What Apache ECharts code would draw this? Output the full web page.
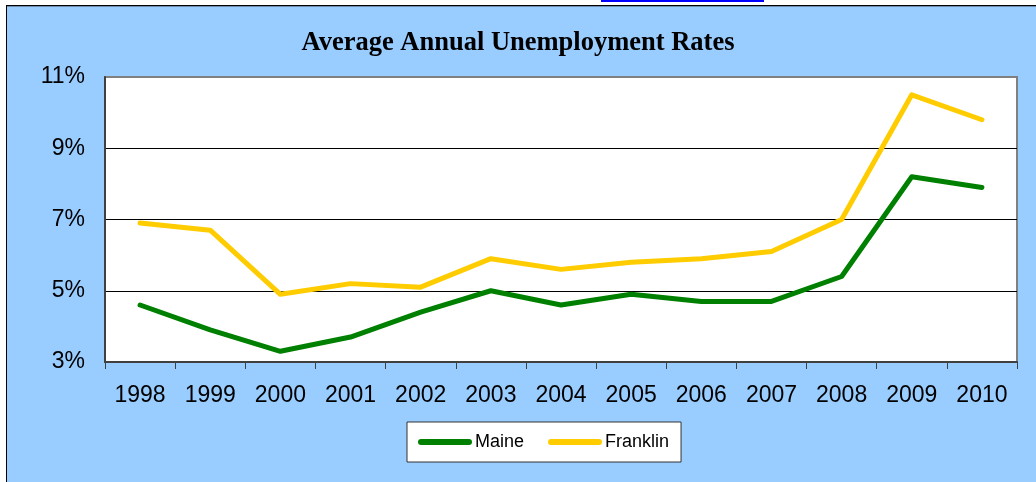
<!DOCTYPE html>
<html>
<head>
<meta charset="utf-8">
<script src="https://cdn.jsdelivr.net/npm/echarts@6/dist/echarts.min.js"></script>
<style>
html,body{margin:0;padding:0;background:#fff;width:1036px;height:482px;overflow:hidden;}
#link{position:absolute;left:601px;top:0;width:163px;height:2px;background:#0000ff;}
#frame{position:absolute;left:6px;top:5px;width:1030px;height:477px;background:#99CCFF;border-top:1px solid #000;border-left:1px solid #000;box-shadow:inset 0 1px 0 #6a8db0;}
#chart{position:absolute;left:0;top:0;width:1036px;height:482px;}
</style>
</head>
<body>
<div id="link"></div>
<div id="frame"></div>
<div id="chart"></div>
<script>
const years = ['1998','1999','2000','2001','2002','2003','2004','2005','2006','2007','2008','2009','2010'];
const maine = [4.6, 3.9, 3.3, 3.7, 4.4, 5.0, 4.6, 4.9, 4.7, 4.7, 5.4, 8.2, 7.9];
const franklin = [6.9, 6.7, 4.9, 5.2, 5.1, 5.9, 5.6, 5.8, 5.9, 6.1, 7.0, 10.5, 9.8];
const yTicks = [3, 5, 7, 9, 11];

const chart = echarts.init(document.getElementById('chart'), null, {renderer:'canvas'});
const capsule = 'path://M3,0 L51,0 A3,3 0 0 1 51,6 L3,6 A3,3 0 0 1 3,0 Z';
chart.setOption({
  backgroundColor: 'transparent',
  animation: false,
  title: {
    text: 'Average Annual Unemployment Rates',
    left: 'center',
    top: 25,
    textStyle: {fontFamily: '"Liberation Serif","Times New Roman",serif', fontWeight: 'bold', fontSize: 26.5, color: '#000'}
  },
  legend: {
    left: 407, top: 422,
    backgroundColor: '#fff',
    borderColor: '#333',
    borderWidth: 1,
    padding: [11, 12, 11, 11],
    itemGap: 24,
    itemWidth: 54, itemHeight: 7,
    textStyle: {fontFamily: '"Liberation Sans",Arial,sans-serif', fontSize: 18, color: '#000', padding: [0,0,0,-2]},
    data: [
      {name: 'Maine', icon: capsule},
      {name: 'Franklin', icon: capsule}
    ]
  },
  grid: {
    left: 105, right: 19, top: 77, bottom: 120,
    show: true, backgroundColor: '#fff', borderColor: '#808080', borderWidth: 2
  },
  xAxis: {
    type: 'category',
    data: years,
    boundaryGap: true,
    axisLine: {lineStyle: {color: '#404040', width: 2}},
    axisTick: {show: true, length: 7, alignWithLabel: false, lineStyle: {color: '#404040', width: 1}},
    axisLabel: {margin: 22, fontFamily: '"Liberation Sans",Arial,sans-serif', fontSize: 23, color: '#000'}
  },
  yAxis: {
    type: 'value',
    min: yTicks[0], max: yTicks[yTicks.length-1], interval: 2,
    axisLine: {show: true, lineStyle: {color: '#404040', width: 2}},
    axisTick: {show: false},
    axisLabel: {margin: 20, formatter: v => v + '%', fontFamily: '"Liberation Sans",Arial,sans-serif', fontSize: 23, color: '#000'},
    splitLine: {show: true, lineStyle: {color: ['#404040', '#000', '#000', '#000', '#808080'], width: 1}}
  },
  series: [
    {name: 'Maine', type: 'line', data: maine, symbol: 'none', color: '#008000',
     lineStyle: {width: 5, color: '#008000', cap: 'round', join: 'round'}},
    {name: 'Franklin', type: 'line', data: franklin, symbol: 'none', color: '#FFCC00',
     lineStyle: {width: 5, color: '#FFCC00', cap: 'round', join: 'round'}}
  ]
});
</script>
</body>
</html>
